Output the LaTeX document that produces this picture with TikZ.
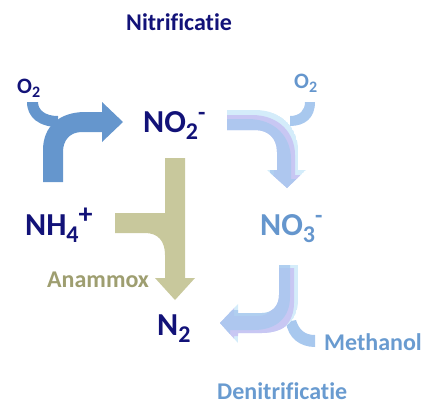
\documentclass[tikz,border=0pt]{standalone}
\usepackage{fontspec}
\setmainfont[Ligatures=NoCommon]{Carlito}
\definecolor{nitnavy}{RGB}{18,18,120}
\definecolor{nitblue}{RGB}{101,150,205}
\definecolor{denblue}{RGB}{105,155,208}
\definecolor{amxtext}{RGB}{158,158,112}
\definecolor{amxfill}{RGB}{200,200,156}
\definecolor{glowcyan}{RGB}{212,236,250}
\definecolor{glowlav}{RGB}{198,190,242}
\definecolor{glowblue}{RGB}{168,200,238}
\newcommand\lo[2][24]{\raisebox{-0.22em}{\fontsize{#1}{#1}\selectfont #2}}
\newcommand\hi[2][24]{\raisebox{0.36em}{\fontsize{#1}{#1}\selectfont #2}}

\tikzset{
  chem/.style={font=\fontsize{32}{32}\bfseries\selectfont, inner sep=0pt, anchor=base west},
  gas/.style={font=\fontsize{22}{22}\bfseries\selectfont, inner sep=0pt, anchor=base west},
  proc/.style={font=\fontsize{24}{24}\bfseries\selectfont, inner sep=0pt, anchor=base west},
  % outlines of the light block arrows
  nitrarrow/.style={insert path={(227,110) -- (255,110) .. controls (282,110) and (298,128) .. (298,150)
      -- (298,170) -- (306,170) -- (287,188) -- (267,170) -- (277,170) -- (277,152)
      .. controls (277,138) and (268,130) .. (255,130) -- (227,130) -- cycle}},
  nitrfeed/.style={insert path={(315,102) .. controls (315,118) and (305,126) .. (290,126)
      -- (290,116) .. controls (300,116) and (305,110) .. (305,102) -- cycle}},
  denarrow/.style={insert path={(279,265) -- (298,265) -- (298,300) .. controls (298,320) and (285,333) .. (262,333)
      -- (238,333) -- (238,343) -- (220,323) -- (238,304) -- (238,313) -- (262,313)
      .. controls (273,313) and (279,305) .. (279,295) -- cycle}},
  denfeed/.style={insert path={(315,335) -- (315,347) .. controls (300,347) and (288,338) .. (286,322)
      -- (296,320) .. controls (299,330) and (305,335) .. (315,335) -- cycle}}
}

\begin{document}
\begin{tikzpicture}[x=1pt,y=-1pt]
\useasboundingbox (0,0) rectangle (439,413);

% nitrificatie, first step
\fill[nitblue] (27,102) .. controls (27,118) and (40,127) .. (58,127) -- (58,116)
  .. controls (45,116) and (38,110) .. (38,102) -- cycle;
\fill[nitblue] (43,182) -- (43,150) .. controls (43,126) and (60,112) .. (85,112) -- (102,112)
  -- (102,102) -- (123,122) -- (102,142) -- (102,132) -- (82,132)
  .. controls (70,132) and (63,140) .. (63,152) -- (63,182) -- cycle;

% anammox
\fill[amxfill] (165,158) -- (185,158) -- (185,278) -- (195,278) -- (175,300) -- (155,278)
  -- (165,278) -- (165,255) .. controls (165,241) and (158,233) .. (145,233) -- (115,233)
  -- (115,213) -- (165,213) -- cycle;

% nitrificatie, second step
\fill[glowblue, nitrfeed];
\begin{scope}
  \clip[nitrarrow];
  \fill[glowcyan, nitrarrow];
  \fill[glowlav, opacity=.8, shift={(-3,5)}, nitrarrow];
  \fill[glowblue, opacity=.8, shift={(-7,9)}, nitrarrow];
\end{scope}

% denitrificatie
\fill[glowblue, denfeed];
\begin{scope}
  \clip[denarrow];
  \fill[glowcyan, denarrow];
  \fill[glowlav, opacity=.8, shift={(-4,3)}, denarrow];
  \fill[glowblue, opacity=.8, shift={(-8,-3)}, denarrow];
\end{scope}

\node[proc, text=nitnavy] (nitr) at (126,30) {Nitrificatie};
\node[gas, text=nitnavy] (o2a) at (17,93) {O\lo[16]{2}};
\node[gas, text=nitblue] (o2b) at (294,88) {O\lo[16]{2}};
\node[chem, text=nitnavy] (no2) at (143,132) {NO\lo{2}\hi{-}};
\node[chem, text=nitnavy] (nh4) at (25,235) {NH\lo{4}\hi[28]{+}};
\node[chem, text=nitblue] (no3) at (260,235) {NO\lo{3}\hi{-}};
\node[chem, text=nitnavy] (n2) at (157,335) {N\lo{2}};
\node[proc, text=amxtext] (amx) at (47,287) {Anammox};
\node[proc, text=denblue] (meth) at (324,350) {Methanol};
\node[proc, text=denblue] (denitr) at (217,399) {Denitrificatie};
\end{tikzpicture}
\end{document}
